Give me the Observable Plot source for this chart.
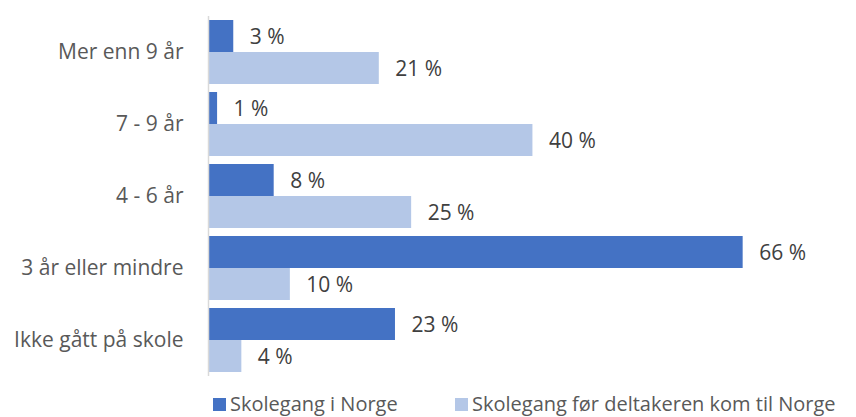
<!DOCTYPE html>
<html>
<head>
<meta charset="utf-8">
<script src="https://cdn.jsdelivr.net/npm/d3@7"></script>
<script src="https://cdn.jsdelivr.net/npm/@observablehq/plot@0.6"></script>
<style>
  body { margin: 0; background: #fff; font-family: "Open Sans", sans-serif; overflow: hidden; }
  #chart svg { display: block; }
  .legend { position: relative; height: 27px; width: 856px; font-size: 20px; color: #595959; }
  .legend .item { position: absolute; top: 0; display: flex; align-items: center; height: 27px; white-space: nowrap; }
  .legend .sw { width: 13px; height: 13px; margin-right: 4px; margin-top: 2px; }
</style>
</head>
<body>
<div id="chart"></div>
<div class="legend" id="legend"></div>
<script>
const categories = ["Mer enn 9 år", "7 - 9 år", "4 - 6 år", "3 år eller mindre", "Ikke gått på skole"];
const seriesNames = ["Skolegang i Norge", "Skolegang før deltakeren kom til Norge"];
const norge = [3, 1, 8, 66, 23];
const forNorge = [21, 40, 25, 10, 4];
const colors = ["#4472C4", "#B4C7E7"];

const data = [];
categories.forEach((c, i) => {
  data.push({category: c, series: seriesNames[0], value: norge[i]});
  data.push({category: c, series: seriesNames[1], value: forNorge[i]});
});

const chart = Plot.plot({
  width: 856,
  height: 390,
  marginLeft: 209,
  marginRight: 81,
  marginTop: 19,
  marginBottom: 16,
  style: {fontFamily: "Open Sans, sans-serif", fontSize: "21px", color: "#595959"},
  x: {domain: [0, 70], axis: null},
  y: {domain: seriesNames, padding: 0, axis: null},
  fy: {domain: categories, paddingInner: 0.108, paddingOuter: 0, label: null, tickSize: 0, tickPadding: 26},
  color: {domain: seriesNames, range: colors},
  facet: {data, y: "category"},
  marks: [
    Plot.barX(data, {x: "value", y: "series", fill: "series"}),
    Plot.ruleX([0], {stroke: "#d9d9d9", strokeWidth: 1.5, insetTop: -4, insetBottom: -4, dx: -1}),
    Plot.text(data, {x: "value", y: "series", text: d => `${d.value} %`, textAnchor: "start", dx: 16, dy: 1, fill: "#404040", fontSize: 21})
  ]
});
document.getElementById("chart").appendChild(chart);

const legend = document.getElementById("legend");
const lefts = [213, 455];
seriesNames.forEach((s, i) => {
  const it = document.createElement("div");
  it.className = "item";
  it.style.left = lefts[i] + "px";
  const sw = document.createElement("span");
  sw.className = "sw";
  sw.style.background = colors[i];
  const t = document.createElement("span");
  t.textContent = s;
  it.appendChild(sw);
  it.appendChild(t);
  legend.appendChild(it);
});
</script>
</body>
</html>
